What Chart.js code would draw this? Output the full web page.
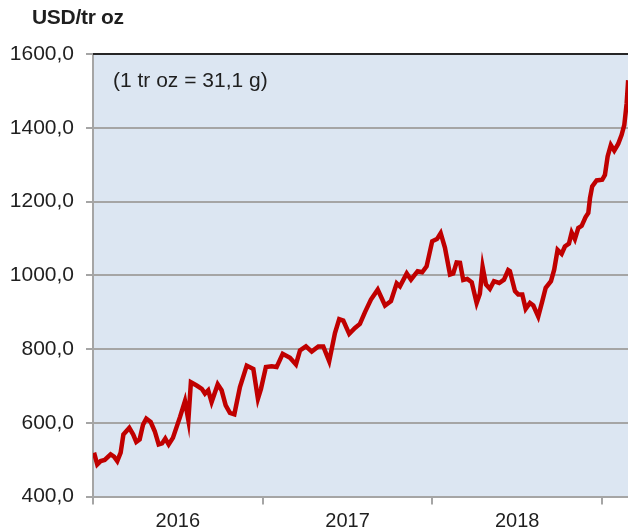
<!DOCTYPE html>
<html>
<head>
<meta charset="utf-8">
<script src="https://cdn.jsdelivr.net/npm/chart.js@4/dist/chart.umd.min.js"></script>
<style>
  body { margin: 0; background: #fff; }
  .wrapper { position: relative; width: 628px; height: 531px; }
  .unit { position: absolute; left: 32px; top: 6px; font: bold 21px "Liberation Sans", Arial, sans-serif; color: #1f1f1f; line-height: 22px; letter-spacing: -0.3px; }
  .note { position: absolute; left: 113px; top: 69px; font: 21px "Liberation Sans", Arial, sans-serif; color: #1f1f1f; line-height: 22px; }
</style>
</head>
<body>
<div class="wrapper">
  <canvas id="price"></canvas>
  <div class="unit">USD/tr oz</div>
  <div class="note">(1 tr oz = 31,1 g)</div>
</div>
<script>
// weekly prices, x in decimal years
const years = [
  2016.006, 2016.025, 2016.045, 2016.069, 2016.104, 2016.124, 2016.143, 2016.163, 2016.179, 2016.214,
  2016.237, 2016.255, 2016.275, 2016.295, 2016.314, 2016.340, 2016.364, 2016.387, 2016.407, 2016.426,
  2016.446, 2016.471, 2016.513, 2016.542, 2016.562, 2016.577, 2016.611, 2016.641, 2016.660, 2016.679,
  2016.699, 2016.735, 2016.758, 2016.782, 2016.807, 2016.833, 2016.866, 2016.906, 2016.945, 2016.972,
  2016.990, 2017.019, 2017.053, 2017.082, 2017.118, 2017.161, 2017.196, 2017.220, 2017.255, 2017.289,
  2017.328, 2017.357, 2017.392, 2017.426, 2017.451, 2017.475, 2017.510, 2017.544, 2017.573, 2017.603,
  2017.638, 2017.678, 2017.721, 2017.756, 2017.790, 2017.809, 2017.849, 2017.874, 2017.913, 2017.940,
  2017.966, 2017.999, 2018.027, 2018.049, 2018.074, 2018.104, 2018.123, 2018.143, 2018.163, 2018.182,
  2018.206, 2018.232, 2018.261, 2018.280, 2018.296, 2018.316, 2018.339, 2018.363, 2018.394, 2018.422,
  2018.447, 2018.457, 2018.487, 2018.506, 2018.530, 2018.550, 2018.575, 2018.595, 2018.624, 2018.648,
  2018.668, 2018.699, 2018.718, 2018.738, 2018.762, 2018.781, 2018.805, 2018.821, 2018.840, 2018.860,
  2018.880, 2018.903, 2018.919, 2018.929, 2018.942, 2018.968, 2019.001, 2019.017, 2019.033, 2019.052,
  2019.072, 2019.095, 2019.115, 2019.131, 2019.145, 2019.154
];

const prices = [
  519, 487, 496, 499, 514, 508, 496, 519, 568, 586,
  568, 548, 555, 595, 611, 602, 577, 541, 544, 557,
  541, 559, 616, 659, 607, 710, 701, 692, 679, 688,
  656, 704, 688, 647, 627, 623, 697, 755, 746, 665,
  692, 751, 753, 751, 787, 776, 758, 796, 807, 793,
  807, 807, 767, 843, 881, 877, 841, 857, 868, 900,
  934, 961, 918, 930, 978, 970, 1005, 988, 1011, 1008,
  1024, 1092, 1098, 1114, 1075, 1002, 1005, 1035, 1034, 987,
  990, 981, 925, 950, 1023, 975, 963, 984, 979, 988,
  1014, 1011, 957, 948, 948, 909, 925, 918, 888, 930,
  966, 984, 1015, 1069, 1058, 1078, 1086, 1116, 1098, 1128,
  1134, 1158, 1169, 1209, 1241, 1257, 1259, 1272, 1322, 1353,
  1338, 1356, 1380, 1407, 1466, 1529
];

// tick marks on whole years, labels in the middle of each year
const yearTicks = [2016, 2016.5, 2017, 2017.5, 2018, 2018.5, 2019];
const yTicks = [400, 600, 800, 1000, 1200, 1400, 1600];

const $priceBox = document.querySelector("#price");

const gridGray = '#a5a5a5';
const textColor = '#1f1f1f';

const plotBackground = {
  id: 'plotBackground',
  beforeDraw(chart)
  {
    let area = chart.chartArea;
    let ctx = chart.ctx;
    ctx.save();
    ctx.fillStyle = '#dce6f2';
    ctx.fillRect(area.left, area.top, area.right - area.left, area.bottom - area.top);
    ctx.restore();
  },
  beforeDatasetsDraw(chart)
  {
    let area = chart.chartArea;
    let ctx = chart.ctx;
    ctx.save();
    ctx.strokeStyle = '#262626';
    ctx.lineWidth = 2;
    ctx.beginPath();
    ctx.moveTo(area.left, area.top);
    ctx.lineTo(area.right, area.top);
    ctx.stroke();
    ctx.restore();
  }
};

let data = {
  datasets: [{
    label: 'USD/tr oz',
    data: years.map((y, i) => ({ x: y, y: prices[i] })),
    borderColor: '#c00000',
    borderWidth: 4.5,
    pointRadius: 0,
    tension: 0,
    fill: false
  }]
};

let config = {
  type: 'line',
  data: data,
  plugins: [plotBackground],
  options: {
    responsive: true,
    maintainAspectRatio: false,
    animation: false,
    layout: { padding: { top: 54, left: 0, right: 0, bottom: 0 } },
    plugins: {
      legend: { display: false },
      tooltip: { enabled: false }
    },
    scales: {
      x: {
        type: 'linear',
        min: 2016,
        max: 2019.153,
        afterBuildTicks: axis => { axis.ticks = yearTicks.map(v => ({ value: v })); },
        afterFit: axis => { axis.height = 34.5; },
        border: { color: gridGray, width: 2 },
        grid: {
          drawOnChartArea: false,
          tickLength: 8,
          lineWidth: 2,
          color: ctx => (ctx.tick && ctx.tick.value % 1 === 0) ? gridGray : 'rgba(0,0,0,0)'
        },
        ticks: {
          autoSkip: false,
          maxRotation: 0,
          padding: 5,
          color: textColor,
          font: { family: '"Liberation Sans", Arial, sans-serif', size: 20 },
          callback: v => (v % 1 === 0) ? '' : String(Math.floor(v))
        }
      },
      y: {
        min: 400,
        max: 1600,
        afterBuildTicks: axis => { axis.ticks = yTicks.map(v => ({ value: v })); },
        afterFit: axis => { axis.width = 93; },
        border: { color: gridGray, width: 2 },
        grid: { color: gridGray, lineWidth: 2, tickLength: 7 },
        ticks: {
          padding: 12,
          color: textColor,
          font: { family: '"Liberation Sans", Arial, sans-serif', size: 21 },
          callback: v => v.toFixed(1).replace('.', ',')
        }
      }
    }
  }
};

let priceChart = new Chart($priceBox, config);
</script>
</body>
</html>
